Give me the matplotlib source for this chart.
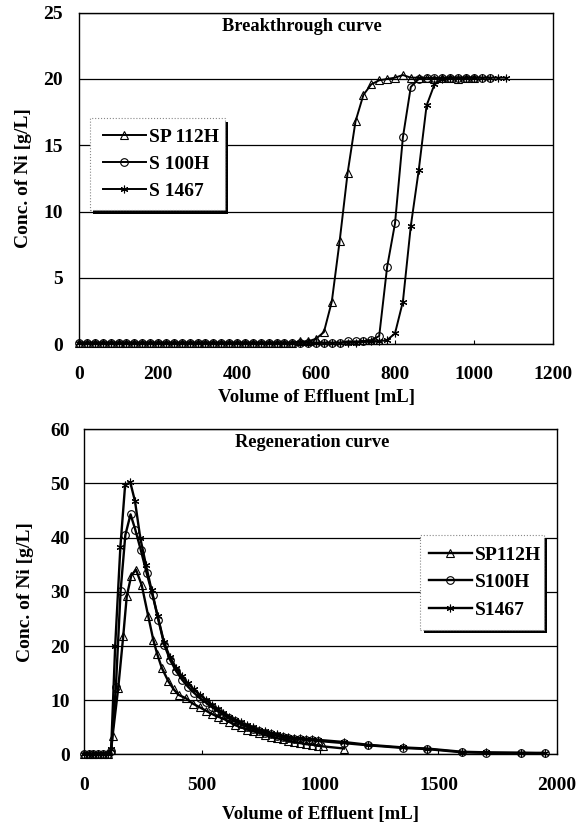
import matplotlib
matplotlib.use('Agg')
import matplotlib.pyplot as plt
from matplotlib.patches import Rectangle

plt.rcParams['font.family'] = ['Liberation Serif', 'DejaVu Serif']
plt.rcParams['font.weight'] = 'bold'

# ---------------- Breakthrough curve data ----------------
bt_labels = ['SP 112H', 'S 100H', 'S 1467']
bt_x_sp112h = list(range(0, 1001, 20))
bt_y_sp112h = [0.1, 0.1, 0.1, 0.1, 0.1, 0.1, 0.1, 0.1, 0.1, 0.1,
               0.1, 0.1, 0.1, 0.1, 0.1, 0.1, 0.1, 0.1, 0.1, 0.1,
               0.1, 0.1, 0.1, 0.1, 0.1, 0.1, 0.1, 0.1, 0.2, 0.2,
               0.4, 0.9, 3.2, 7.8, 12.9, 16.8, 18.8, 19.6, 19.9, 20.0,
               20.1, 20.3, 20.1, 20.1, 20.1, 20.0, 20.1, 20.1, 20.0, 20.1, 20.1]
bt_x_s100h = list(range(0, 1041, 20))
bt_y_s100h = [0.1, 0.1, 0.1, 0.1, 0.1, 0.1, 0.1, 0.1, 0.1, 0.1,
              0.1, 0.1, 0.1, 0.1, 0.1, 0.1, 0.1, 0.1, 0.1, 0.1,
              0.1, 0.1, 0.1, 0.1, 0.1, 0.1, 0.1, 0.1, 0.1, 0.1,
              0.1, 0.1, 0.1, 0.1, 0.2, 0.2, 0.2,
              0.3, 0.6, 5.8, 9.1, 15.6, 19.4, 20.0,
              20.1, 20.1, 20.1, 20.1, 20.1, 20.1, 20.1, 20.1, 20.1]
bt_x_s1467 = list(range(0, 1081, 20))
bt_y_s1467 = [0.1, 0.1, 0.1, 0.1, 0.1, 0.1, 0.1, 0.1, 0.1, 0.1,
              0.1, 0.1, 0.1, 0.1, 0.1, 0.1, 0.1, 0.1, 0.1, 0.1,
              0.1, 0.1, 0.1, 0.1, 0.1, 0.1, 0.1, 0.1, 0.1, 0.1,
              0.1, 0.1, 0.1, 0.1, 0.1, 0.1, 0.2, 0.2, 0.2,
              0.3, 0.8, 3.2, 8.9, 13.1, 18.0, 19.6, 20.0,
              20.1, 20.1, 20.1, 20.1, 20.1, 20.1, 20.1, 20.1]
bt_xticks = [0, 200, 400, 600, 800, 1000, 1200]
bt_yticks = [0, 5, 10, 15, 20, 25]

# ---------------- Regeneration curve data ----------------
rg_labels = ['SP112H', 'S100H', 'S1467']
rg_x_sp112h = [0, 20, 40, 60, 80, 100, 115, 121, 145, 166, 181, 200, 220, 244,
               272, 293, 310, 329, 357, 380, 400, 430, 460, 490, 515, 540, 565,
               590, 615, 640, 665, 690, 715, 740, 765, 790, 815, 840, 865, 890,
               915, 940, 965, 990, 1010, 1100]
rg_y_sp112h = [0, 0, 0, 0, 0, 0, 0.8, 3.4, 12.3, 21.8, 29.2, 33.0, 34.1, 31.3,
               25.5, 21.2, 18.5, 16.0, 13.5, 12.0, 11.0, 10.4, 9.4, 8.7, 8.1, 7.5, 7.0,
               6.6, 6.0, 5.4, 5.0, 4.6, 4.3, 4.0, 3.6, 3.3, 3.0, 2.8, 2.5, 2.3,
               2.1, 1.9, 1.8, 1.6, 1.5, 1.1]
rg_x_s100h = [0, 20, 40, 60, 80, 100, 115, 135, 155, 175, 197, 217, 240, 265,
              290, 315, 340, 365, 390, 415, 440, 465, 490, 515, 540, 565, 590,
              615, 640, 665, 690, 715, 740, 765, 790, 815, 840, 865, 890, 915,
              940, 965, 990, 1100, 1200, 1350, 1450, 1600, 1700, 1850, 1950]
rg_y_s100h = [0, 0, 0, 0, 0, 0, 0.6, 12.5, 30.2, 40.5, 44.3, 41.5, 37.8, 33.5,
              29.5, 24.8, 20.2, 17.4, 15.4, 13.8, 12.5, 11.4, 10.4, 9.6, 8.8, 8.0, 7.3,
              6.7, 6.1, 5.6, 5.1, 4.7, 4.3, 4.0, 3.7, 3.5, 3.3, 3.1, 2.9, 2.8,
              2.7, 2.6, 2.5, 2.1, 1.7, 1.2, 1.0, 0.4, 0.3, 0.3, 0.2]
rg_x_s1467 = [0, 20, 40, 60, 80, 100, 115, 132, 154, 174, 196, 216, 238, 262,
              286, 312, 338, 363, 390, 415, 440, 465, 490, 515, 540, 565, 590,
              615, 640, 665, 690, 715, 740, 765, 790, 815, 840, 865, 890, 915,
              940, 965, 990, 1100, 1200, 1350, 1450, 1600, 1700, 1850, 1950]
rg_y_s1467 = [0, 0, 0, 0, 0, 0, 1.0, 20.0, 38.3, 49.7, 50.2, 46.7, 40.0, 35.0,
              30.3, 25.5, 20.8, 18.0, 16.0, 14.4, 13.1, 12.0, 11.0, 10.1, 9.2, 8.4, 7.7,
              7.0, 6.4, 5.9, 5.4, 5.0, 4.6, 4.3, 4.0, 3.7, 3.5, 3.3, 3.1, 3.0,
              2.9, 2.8, 2.7, 2.3, 1.8, 1.3, 1.1, 0.5, 0.4, 0.3, 0.3]
rg_xticks = [0, 500, 1000, 1500, 2000]
rg_yticks = [0, 10, 20, 30, 40, 50, 60]

markers = ['^', 'o', (6, 2, 0)]

fig = plt.figure(figsize=(5.84, 8.27), dpi=100)
ax1 = fig.add_axes([0.1353, 0.584, 0.8116, 0.4006])
ax2 = fig.add_axes([0.1438, 0.0877, 0.8094, 0.3932])


def style_axes(ax, xticks, yticks, xlab_y, ylab_x, ypad):
    ax.set_xlim(xticks[0], xticks[-1])
    ax.set_ylim(yticks[0], yticks[-1])
    ax.set_xticks(xticks)
    ax.set_yticks(yticks)
    ax.yaxis.grid(True, color='black', linewidth=0.9)
    ax.set_axisbelow(True)
    for s in ax.spines.values():
        s.set_color('black')
        s.set_linewidth(1.0)
    ax.tick_params(axis='x', direction='in', length=3, width=0.8,
                   labelsize=14, pad=16)
    ax.tick_params(axis='y', length=0, labelsize=14, pad=ypad)
    for lab in ax.get_xticklabels() + ax.get_yticklabels():
        lab.set_fontweight('bold')
    ax.set_xlabel('Volume of Effluent [mL]', fontsize=13.5, fontweight='bold')
    ax.set_ylabel('Conc. of Ni [g/L]', fontsize=14, fontweight='bold')
    ax.xaxis.set_label_coords(0.5, xlab_y)
    ax.yaxis.set_label_coords(ylab_x, 0.5)


def draw_legend(ax, handles, labels, x0, y0, x1, y1, text_dx):
    bb = ax.get_position()
    fw, fh = fig.get_size_inches() * fig.dpi
    wpx, hpx = bb.width * fw, bb.height * fh
    dx, dy = 3.5 / wpx, 3.5 / hpx
    ax.add_patch(Rectangle((x0 + dx, y0 - dy), x1 - x0, y1 - y0,
                           transform=ax.transAxes, facecolor='black',
                           edgecolor='none', zorder=5, clip_on=False))
    ax.add_patch(Rectangle((x0, y0), x1 - x0, y1 - y0,
                           transform=ax.transAxes, facecolor='white',
                           edgecolor='#888888', linestyle=':', linewidth=0.8,
                           zorder=6, clip_on=False))
    leg = ax.legend(handles, labels, loc='center left',
                    bbox_to_anchor=(x0 + text_dx / wpx, (y0 + y1) / 2),
                    bbox_transform=ax.transAxes, frameon=False,
                    handlelength=2.2, handletextpad=0.15, labelspacing=0.5,
                    borderpad=0, borderaxespad=0,
                    prop={'weight': 'bold', 'size': 14})
    leg.set_zorder(7)


# ---- top chart ----
h1 = []
for x, y, m in zip([bt_x_sp112h, bt_x_s100h, bt_x_s1467],
                   [bt_y_sp112h, bt_y_s100h, bt_y_s1467], markers):
    ln, = ax1.plot(x, y, color='black', linewidth=1.4, marker=m, markersize=5.5,
                   markerfacecolor='none', markeredgecolor='black',
                   markeredgewidth=0.8, zorder=3, clip_on=False)
    h1.append(ln)
style_axes(ax1, bt_xticks, bt_yticks, -0.135, -0.100, 11.5)
ax1.text(0.47, 0.957, 'Breakthrough curve', transform=ax1.transAxes,
         ha='center', va='center', fontsize=13.2, fontweight='bold')
draw_legend(ax1, h1, bt_labels, 0.023, 0.404, 0.308, 0.682, 13)

# ---- bottom chart ----
h2 = []
for x, y, m in zip([rg_x_sp112h, rg_x_s100h, rg_x_s1467],
                   [rg_y_sp112h, rg_y_s100h, rg_y_s1467], markers):
    ln, = ax2.plot(x, y, color='black', linewidth=1.7, marker=m, markersize=5.5,
                   markerfacecolor='none', markeredgecolor='black',
                   markeredgewidth=0.8, zorder=3, clip_on=False)
    h2.append(ln)
style_axes(ax2, rg_xticks, rg_yticks, -0.158, -0.106, 10)
ax2.text(0.482, 0.958, 'Regeneration curve', transform=ax2.transAxes,
         ha='center', va='center', fontsize=13.2, fontweight='bold')
draw_legend(ax2, h2, rg_labels, 0.711, 0.383, 0.973, 0.675, 9)

fig.savefig('out.png', dpi=100)
